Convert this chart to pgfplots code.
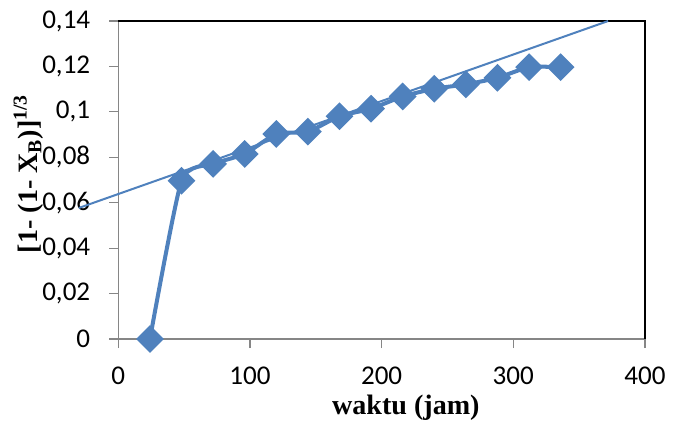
\documentclass[border=0pt]{standalone}
\usepackage{pgfplots}
\pgfplotsset{compat=1.18}
\usepackage{fontspec}
\setmainfont{Liberation Serif}
\newfontfamily\calibri{Carlito}
\definecolor{xlblue}{HTML}{4F81BD}
\definecolor{axgray}{HTML}{868686}
\begin{document}
\begin{tikzpicture}
\useasboundingbox (-59pt,-41.5pt) rectangle (278.5pt,169pt);
\begin{axis}[
  at={(0,0)}, anchor=south west,
  scale only axis, width=262.5pt, height=158.5pt,
  xmin=0, xmax=400, ymin=0, ymax=0.14,
  axis x line*=bottom, axis y line*=left,
  axis line style={axgray, line width=0.6pt},
  xtick={0,100,200,300,400},
  xticklabels={0,100,200,300,400},
  ytick={0,0.02,0.04,0.06,0.08,0.1,0.12,0.14},
  yticklabels={0,{0,02},{0,04},{0,06},{0,08},{0,1},{0,12},{0,14}},
  ticklabel style={font=\calibri\fontsize{13.5}{14}\selectfont},
  xticklabel style={yshift=-6pt},
  yticklabel style={xshift=-6pt},
  xtick align=outside, ytick align=outside,
  major tick length=4.5pt,
  every tick/.style={draw=axgray, line width=0.6pt},
  clip=false,
  xlabel={\textbf{waktu (jam)}},
  ylabel={\textbf{[1- (1- X\textsubscript{B})]\textsuperscript{1/3}}},
  label style={font=\fontsize{14}{15}\selectfont},
  xlabel style={at={(axis description cs:0.546,-0.215)}, anchor=center},
  ylabel style={at={(axis description cs:-0.171,0.52)}, anchor=center},
]
\draw[black, line width=0.6pt] (rel axis cs:0,1) -- (rel axis cs:1,1) -- (rel axis cs:1,0);
% linear trendline, extended backwards
\addplot[xlblue, line width=1pt] coordinates {(-30,0.0577) (372,0.14)};
\addplot[xlblue, line width=2pt, smooth, tension=0.35,
  mark=square*, mark size=3.9pt, mark options={rotate=45, solid}]
  coordinates {
  (24,0) (48,0.0697) (72,0.0771) (96,0.0815) (120,0.0903) (144,0.0913)
  (168,0.0981) (192,0.1014) (216,0.1068) (240,0.1102) (264,0.1121)
  (288,0.1150) (312,0.1197) (336,0.1197)
  };
\end{axis}
\end{tikzpicture}
\end{document}
